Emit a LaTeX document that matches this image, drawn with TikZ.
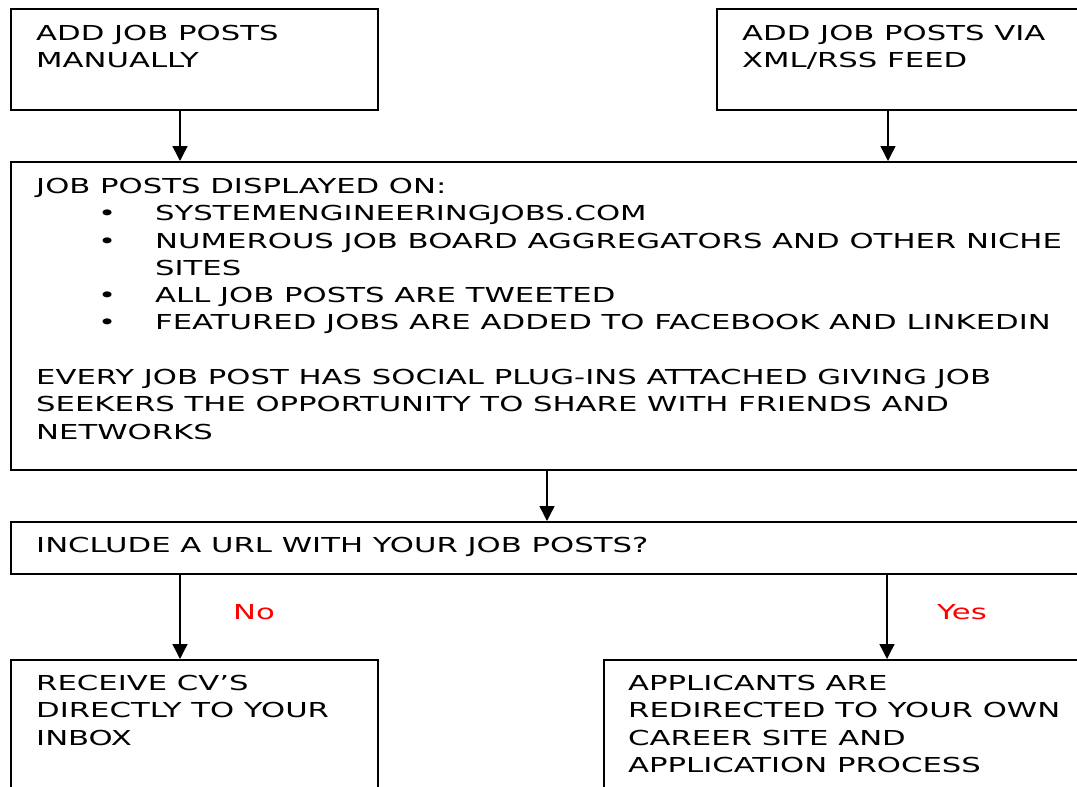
\documentclass[tikz,border=0pt]{standalone}
\usepackage{fontspec}
\setmainfont[FakeStretch=1.49]{DejaVu Sans}
\usetikzlibrary{arrows.meta}
\tikzset{
  stepbox/.style={draw,line width=1.6pt,anchor=north west,inner sep=0pt},
  boxtext/.style={anchor=north west,inner sep=0pt,align=left,font=\fontsize{20.6}{27.3}\selectfont},
  answer/.style={boxtext,text=red},
  flow/.style={line width=1.4pt,-{Triangle[width=15pt,length=15pt]}}
}
\begin{document}
\begin{tikzpicture}[x=1pt,y=-1pt]
\useasboundingbox (0,0) rectangle (1077,787);
\clip (0,0) rectangle (1077,787);
\node[stepbox,minimum width=367pt,minimum height=101pt] (manual) at (10,8) {};
\node[stepbox,minimum width=380pt,minimum height=101pt] (feed) at (716,8) {};
\node[stepbox,minimum width=1080pt,minimum height=308pt] (display) at (10,161) {};
\node[stepbox,minimum width=1080pt,minimum height=52pt] (url) at (10,521) {};
\node[stepbox,minimum width=367pt,minimum height=150pt] (inbox) at (10,659) {};
\node[stepbox,minimum width=490pt,minimum height=150pt] (redirect) at (603,659) {};
\node[boxtext] (manual-t) at (36,25) {ADD JOB POSTS\\MANUALLY};
\node[boxtext] (feed-t) at (742,25) {ADD JOB POSTS VIA\\XML/RSS FEED};
\node[boxtext] (display-t) at (36,178) {JOB POSTS DISPLAYED ON:\\
\hspace*{62pt}\makebox[57pt][l]{•}SYSTEMENGINEERINGJOBS.COM\\
\hspace*{62pt}\makebox[57pt][l]{•}NUMEROUS JOB BOARD AGGREGATORS AND OTHER NICHE\\
\hspace*{119pt}SITES\\
\hspace*{62pt}\makebox[57pt][l]{•}ALL JOB POSTS ARE TWEETED\\
\hspace*{62pt}\makebox[57pt][l]{•}FEATURED JOBS ARE ADDED TO FACEBOOK AND LINKEDIN\\[27.3pt]
EVERY JOB POST HAS SOCIAL PLUG-INS ATTACHED GIVING JOB\\
SEEKERS THE OPPORTUNITY TO SHARE WITH FRIENDS AND\\
NETWORKS};
\node[boxtext] (url-t) at (36,537) {INCLUDE A URL WITH YOUR JOB POSTS?};
\node[boxtext] (inbox-t) at (36,675) {RECEIVE CV’S\\DIRECTLY TO YOUR\\INBOX};
\node[boxtext] (redirect-t) at (628,675) {APPLICANTS ARE\\REDIRECTED TO YOUR OWN\\CAREER SITE AND\\APPLICATION PROCESS};
\node[answer] (no) at (233,604) {No};
\node[answer] (yes) at (937,604) {Yes};
\draw[flow] ([xshift=170pt]manual.south west) -- ([xshift=170pt]manual.south west |- display.north);
\draw[flow] ([xshift=172pt]feed.south west) -- ([xshift=172pt]feed.south west |- display.north);
\draw[flow] ([xshift=537pt]display.south west) -- ([xshift=537pt]display.south west |- url.north);
\draw[flow] ([xshift=170pt]url.south west) -- ([xshift=170pt]url.south west |- inbox.north);
\draw[flow] ([xshift=877pt]url.south west) -- ([xshift=877pt]url.south west |- redirect.north);
\end{tikzpicture}
\end{document}
